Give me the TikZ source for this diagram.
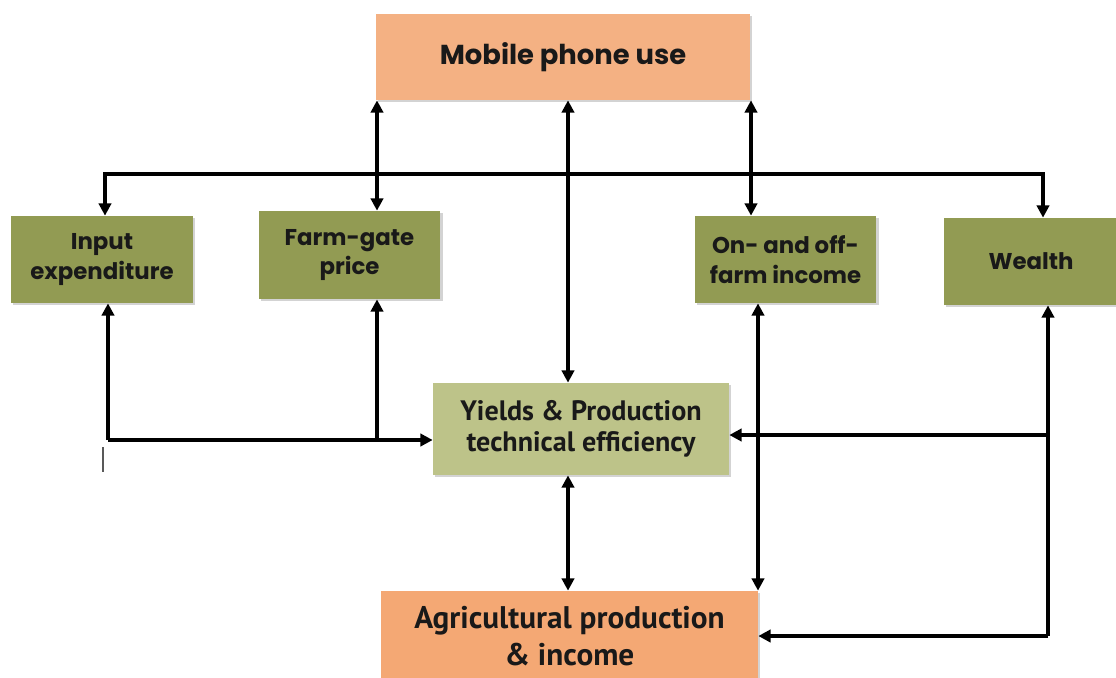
\documentclass[tikz,border=0pt]{standalone}
\usepackage{fontspec}
\setmainfont{Poppins}
\newfontfamily\narrowfont{PT Sans}
\usetikzlibrary{arrows.meta,shadows}
\definecolor{orangeA}{RGB}{244,177,131}
\definecolor{orangeB}{RGB}{244,168,116}
\definecolor{olive}{RGB}{146,155,83}
\definecolor{lightolive}{RGB}{189,195,137}
\definecolor{txt}{RGB}{25,25,25}
\tikzset{
  box/.style={draw=none, align=center, text=txt, inner sep=0pt,
    drop shadow={opacity=0.35, shadow xshift=1.2pt, shadow yshift=-1.2pt}},
  greenbox/.style={box, fill=olive, minimum width=3.64cm, minimum height=1.74cm,
    font=\fontsize{13}{17}\selectfont\bfseries},
  conn/.style={line width=2pt, draw=black},
  tip/.style={-{Triangle[length=7pt,width=7pt]}},
  bitip/.style={{Triangle[length=7pt,width=7pt]}-{Triangle[length=7pt,width=7pt]}}
}
\begin{document}
\begin{tikzpicture}[x=0.02cm,y=-0.02cm]
\useasboundingbox (0,0) rectangle (1116,677);
% nodes
\node[box, fill=orangeA, minimum width=7.48cm, minimum height=1.72cm,
  font=\fontsize{15.6}{18}\selectfont\bfseries] (mob) at (563,57) {Mobile phone use};
\node[greenbox] (inp) at (102,259.5) {Input\\expenditure};
\node[greenbox, minimum height=1.76cm] (farm) at (349.5,255) {Farm-gate\\price};
\node[greenbox] (onoff) at (785.5,259.5) {On- and off-\\farm income};
\node[greenbox, minimum width=3.48cm] (wl) at (1031,261.5) {Wealth};
\node[box, fill=lightolive, minimum width=5.92cm, minimum height=1.84cm,
  font=\narrowfont\fontsize{16}{18}\selectfont\bfseries] (yld) at (581,429)
  {Yields \& Production\\technical efficiency};
\node[box, fill=orangeB, minimum width=7.54cm, minimum height=1.8cm,
  font=\narrowfont\fontsize{17.8}{21}\selectfont\bfseries] (agr) at (569.5,636)
  {Agricultural production\\\& income};
% helper coordinates
\coordinate (xA) at (105,0);
\coordinate (xB) at (108,0);
\coordinate (xC) at (377,0);
\coordinate (xD) at (568,0);
\coordinate (xE) at (751,0);
\coordinate (xF) at (758,0);
\coordinate (xG) at (1043,0);
\coordinate (xH) at (1048,0);
\coordinate (yBus) at (0,174);
\coordinate (yL) at (0,440);
\coordinate (yR) at (0,435);
\coordinate (yB) at (0,636);
% connectors
\draw[conn, bitip] (mob.south -| xC) -- (farm.north -| xC);
\draw[conn, bitip] (mob.south -| xD) -- (yld.north -| xD);
\draw[conn, bitip] (mob.south -| xE) -- (onoff.north -| xE);
\draw[conn, bitip] (inp.north -| xA) -- (xA |- yBus) -- (xG |- yBus) -- (wl.north -| xG);
\draw[conn, tip] (xB |- yL) -- (inp.south -| xB);
\draw[conn, tip] (xB |- yL) -- (yld.west |- yL);
\draw[conn, tip] (xC |- yL) -- (farm.south -| xC);
\draw[conn, bitip] (onoff.south -| xF) -- (agr.north -| xF);
\draw[conn, tip] (xH |- yB) -- (wl.south -| xH);
\draw[conn, tip] (xH |- yR) -- (yld.east |- yR);
\draw[conn, tip] (xH |- yB) -- (agr.east |- yB);
\draw[conn, bitip] (yld.south -| xD) -- (agr.north -| xD);
% stray mark
\coordinate (s1) at (103,447);
\coordinate (s2) at (103,472);
\draw[gray!70!black, line width=0.6pt] (s1) -- (s2);
\end{tikzpicture}
\end{document}
